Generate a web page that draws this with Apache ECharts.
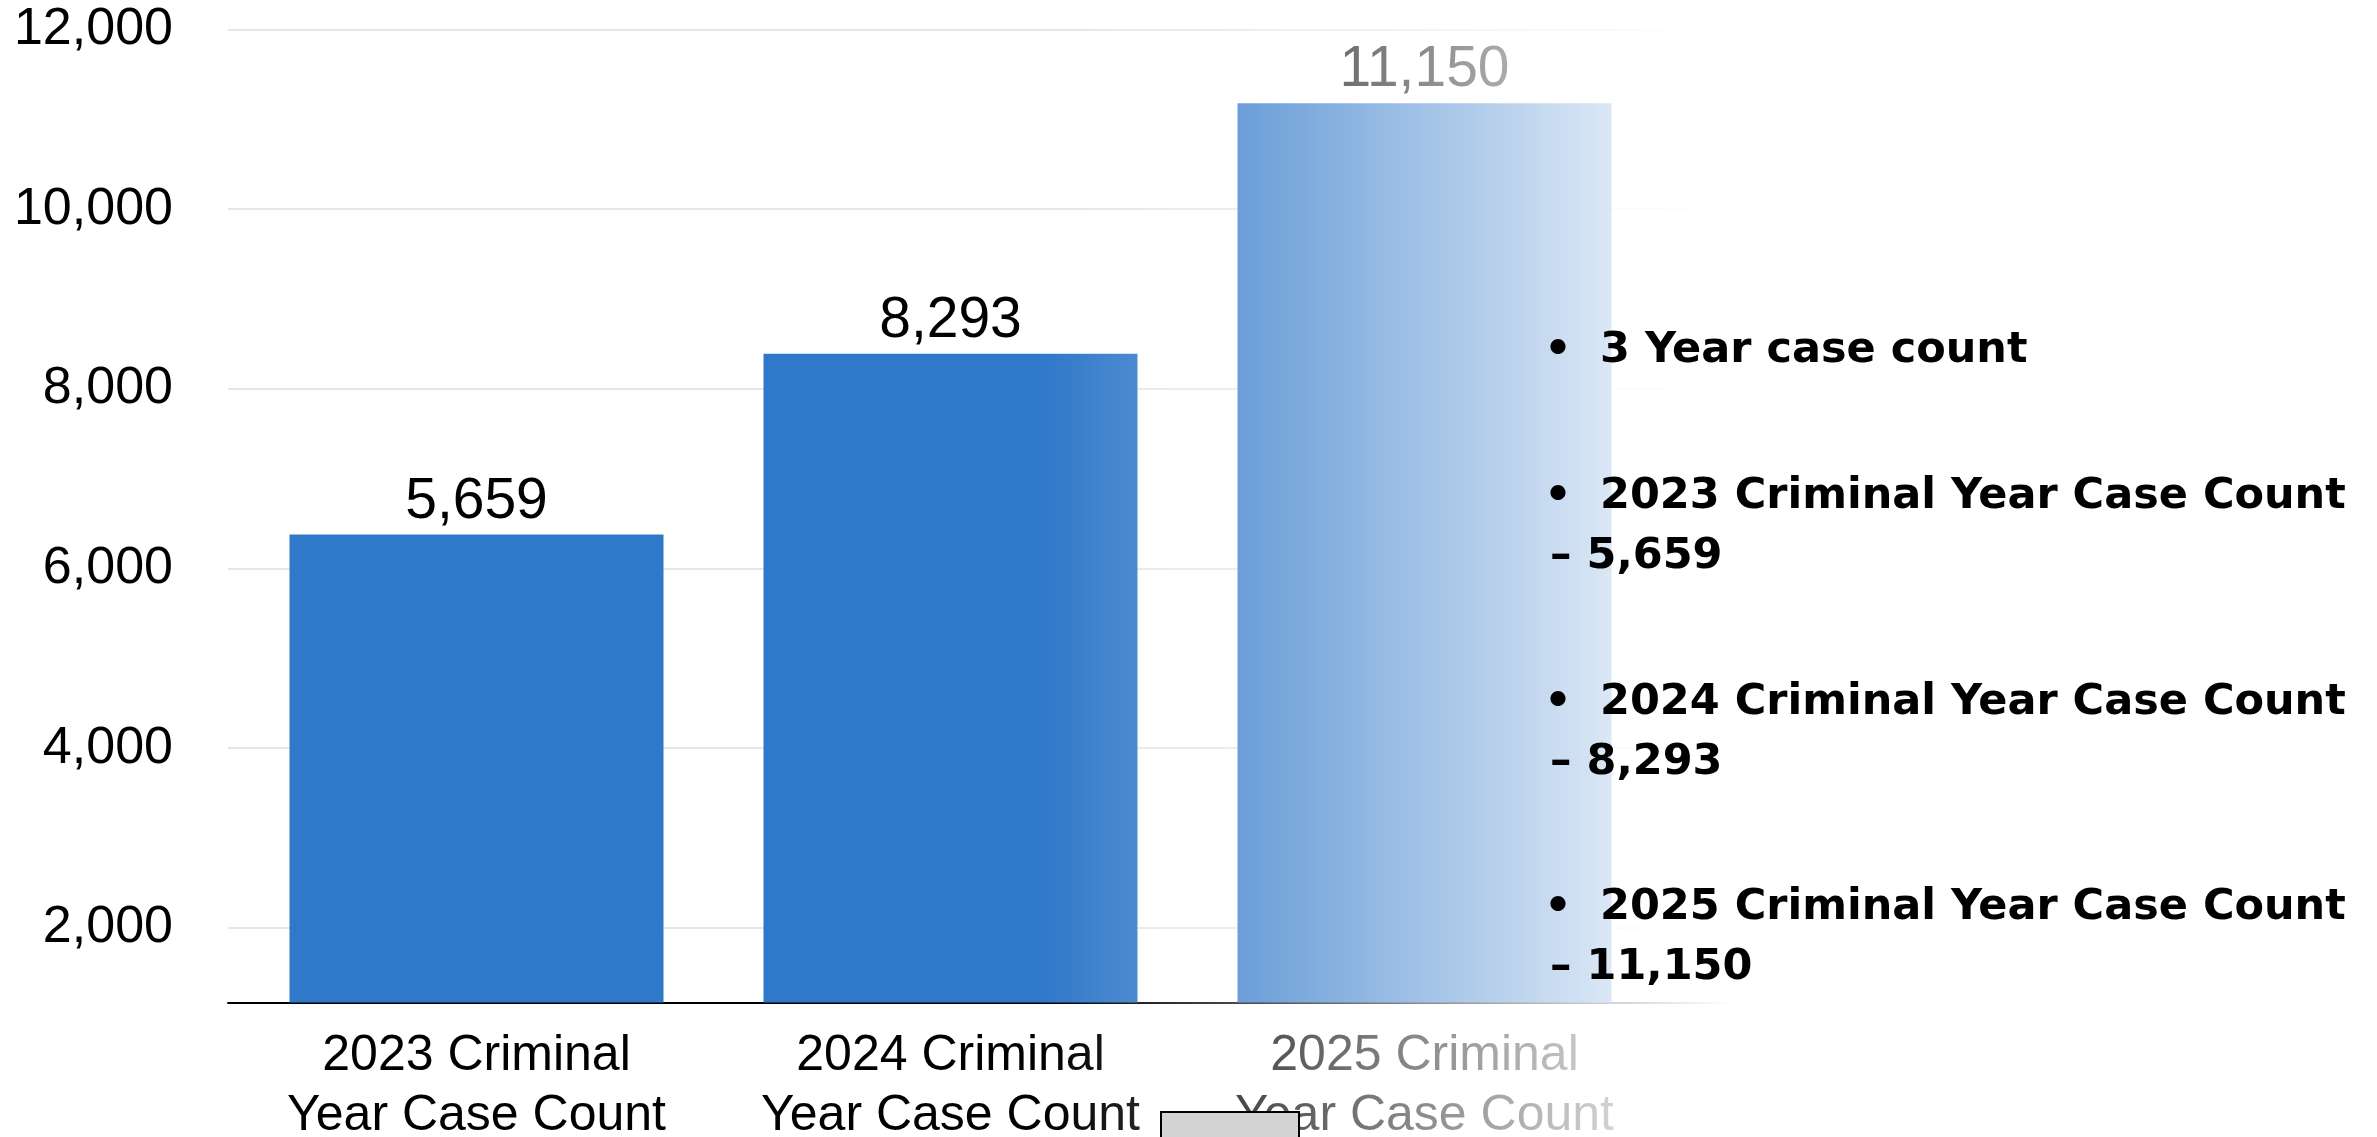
<!DOCTYPE html>
<html><head><meta charset="utf-8">
<script src="https://cdn.jsdelivr.net/npm/echarts@6/dist/echarts.min.js"></script>
<style>html,body{margin:0;padding:0;background:#fff}#c{width:2377px;height:1137px}</style>
</head><body><div id="c"></div>
<script>
// ---- data ----
const categories = ['2023 Criminal\nYear Case Count', '2024 Criminal\nYear Case Count', '2025 Criminal\nYear Case Count'];
const barHeights = [6378, 8390, 11180];      // bar tops as drawn in the picture
const labelValues = [5659, 8293, 11150];     // printed case counts
const yTicks = [2000, 4000, 6000, 8000, 10000, 12000];
const yMin = 1170, yMax = 12000;
const listTitle = '3 Year case count';

// ---- helpers ----
const fmt = v => Number(v).toLocaleString('en-US');
const FONT = '"Liberation Sans", Arial, Helvetica, sans-serif';
const LIST_FONT = 'bold 43px "DejaVu Sans", sans-serif';
const TOP = 29.5, BOTTOM = 134.5;

const chart = echarts.init(document.getElementById('c'), null, {renderer: 'canvas', width: 2377, height: 1137});

const graphics = [];
// white fade overlay on the right side of the chart
graphics.push({
  type: 'rect', z: 100, silent: true,
  shape: {x: 0, y: 0, width: 2377, height: 1137},
  style: {fill: {type: 'linear', x: 1044, y: 0, x2: 1734, y2: 0, global: true,
    colorStops: [{offset: 0, color: 'rgba(255,255,255,0)'}, {offset: 1, color: 'rgba(255,255,255,1)'}]}}
});
function addText(x, y, text, align) {
  graphics.push({type: 'text', z: 120, x: x, y: y,
    style: {text: text, fill: '#000', font: LIST_FONT, align: align || 'left', verticalAlign: 'middle',
            textAlign: align || 'left', textVerticalAlign: 'middle'}});
}
// right-hand bullet list built from the data
const bulletX = 1558, textX = 1600, dashX = 1550;
addText(bulletX, 351, '\u2022', 'center');
addText(textX, 351, listTitle);
categories.forEach((c, i) => {
  const y1 = 497 + i * 205.5, y2 = y1 + 60;
  addText(bulletX, y1, '\u2022', 'center');
  addText(textX, y1, c.replace('\n', ' '));
  addText(dashX, y2, '\u2013 ' + fmt(labelValues[i]));
});
// grey box at the bottom
graphics.push({type: 'rect', z: 130, shape: {x: 1161, y: 1112, width: 138, height: 40},
  style: {fill: '#D3D3D3', stroke: '#000', lineWidth: 2}});

const option = {
  animation: false,
  backgroundColor: '#ffffff',
  grid: [
    {left: 228, right: 635, top: TOP, bottom: BOTTOM, containLabel: false, outerBoundsMode: 'none'},
    {left: 239.5, right: 715.5, top: TOP, bottom: BOTTOM, containLabel: false, outerBoundsMode: 'none'}
  ],
  xAxis: [
    {gridIndex: 0, type: 'value', min: 0, max: 1,
     axisLine: {show: true, onZero: false, lineStyle: {color: '#000', width: 2}},
     axisTick: {show: false}, axisLabel: {show: false}, splitLine: {show: false}},
    {gridIndex: 1, type: 'category', data: categories,
     axisLine: {show: false}, axisTick: {show: false}, splitLine: {show: false},
     axisLabel: {interval: 0, color: '#000', fontFamily: FONT, fontSize: 50, lineHeight: 60, margin: 24}}
  ],
  yAxis: [
    {gridIndex: 0, type: 'value', min: yMin, max: yMax,
     axisLine: {show: false},
     axisTick: {show: false, customValues: yTicks},
     axisLabel: {customValues: yTicks, formatter: v => fmt(v), color: '#000', fontFamily: FONT, fontSize: 52, margin: 55},
     splitLine: {show: true, lineStyle: {color: '#E6E6E6', width: 2}}},
    {gridIndex: 1, type: 'value', min: yMin, max: yMax, show: false,
     axisLine: {show: false}, axisTick: {show: false}, axisLabel: {show: false}, splitLine: {show: false}}
  ],
  series: [{
    type: 'bar', xAxisIndex: 1, yAxisIndex: 1, data: barHeights, barWidth: 374,
    itemStyle: {color: '#3078C9'},
    label: {show: true, position: 'top', distance: 4,
            formatter: p => fmt(labelValues[p.dataIndex]),
            color: '#000', fontFamily: FONT, fontSize: 57}
  }],
  graphic: graphics
};
chart.setOption(option);
</script>
</body></html>
